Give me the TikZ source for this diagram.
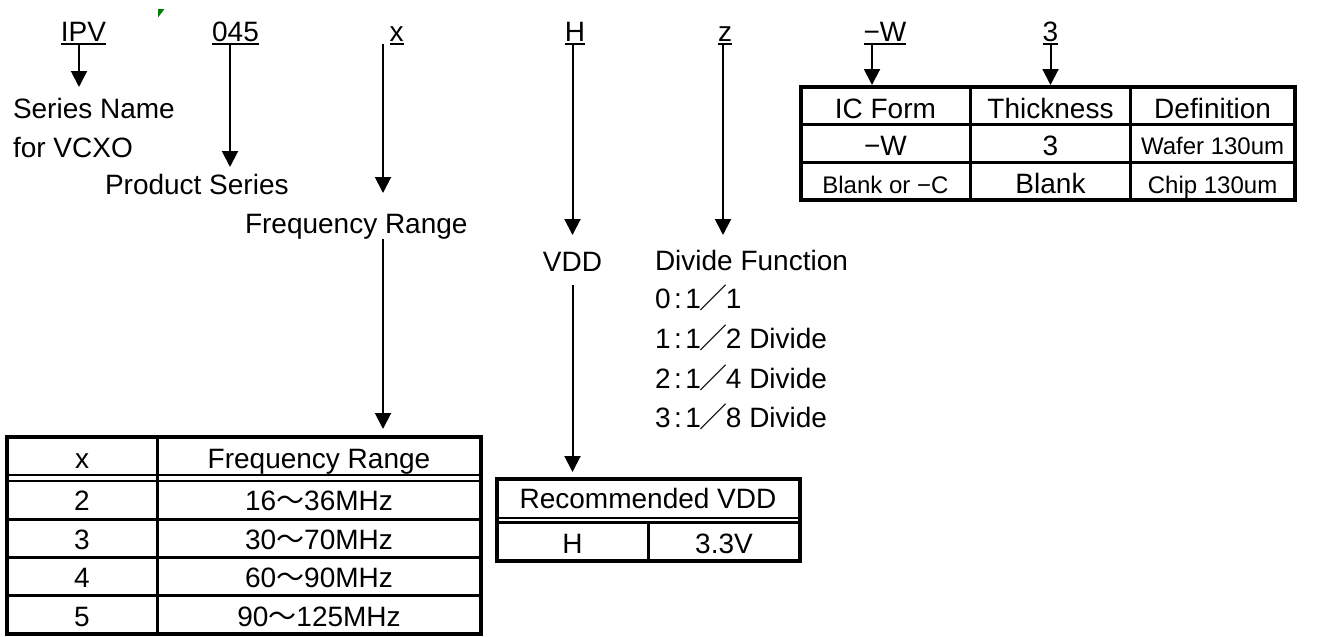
\documentclass[tikz,border=0pt]{standalone}
\usepackage{fontspec}
\setmainfont{Liberation Sans}
\newfontfamily\cjk{Noto Sans CJK JP}
\usetikzlibrary{arrows.meta}
\definecolor{mkgreen}{RGB}{0,128,0}
\begin{document}
\begin{tikzpicture}[x=1pt,y=-1pt,
  every node/.style={inner sep=0pt,outer sep=0pt,font=\fontsize{28}{32}\selectfont},
  txt/.style={anchor=base west},
  ctr/.style={anchor=base},
  toplabel/.style={anchor=base,text depth=3pt},
  small/.style={font=\fontsize{24}{28}\selectfont},
  arr/.style={line width=2pt,-{Triangle[width=16pt,length=16pt]}},
  uline/.style={line width=2.5pt},
  outerline/.style={line width=4pt},
  innerline/.style={line width=2.7pt},
  thinline/.style={line width=2.2pt}]
\useasboundingbox (0,0) rectangle (1336,637);

% green mark
\fill[mkgreen] (158,9) -- (164.5,9) -- (158,17.5) -- cycle;

% top labels
\node[toplabel] (ipv) at (83.5,41) {IPV};
\node[toplabel] (p045) at (235.5,41) {045};
\node[toplabel] (px) at (396.5,41) {x};
\node[toplabel] (ph) at (575,41) {H};
\node[toplabel] (pz) at (725,41) {z};
\node[toplabel] (pw) at (885,41) {−W};
\node[toplabel] (p3) at (1050.5,41) {3};
\foreach \n in {ipv,p045,px,ph,pz,pw,p3}
  \draw[uline] (\n.south west) -- (\n.south east);

% descriptions
\node[txt] (series) at (13,118) {Series Name};
\node[txt] (vcxo) at (13,157) {for VCXO};
\node[txt] (prod) at (105,194) {Product Series};
\node[txt] (freqlbl) at (245,233) {Frequency Range};
\node[ctr] (vdd) at (572.5,271) {VDD};
\node[txt] (divf) at (655,270) {Divide Function};
\node[txt] (d0) at (655,308) {0\hspace{3.5pt}:\hspace{3.5pt}1\kern-1pt{\cjk ／}\kern-2pt1};
\node[txt] (d1) at (655,348) {1\hspace{3.5pt}:\hspace{3.5pt}1\kern-1pt{\cjk ／}\kern-2pt2 Divide};
\node[txt] (d2) at (655,388) {2\hspace{3.5pt}:\hspace{3.5pt}1\kern-1pt{\cjk ／}\kern-2pt4 Divide};
\node[txt] (d3) at (655,427) {3\hspace{3.5pt}:\hspace{3.5pt}1\kern-1pt{\cjk ／}\kern-2pt8 Divide};

% arrow tips
\coordinate (t1) at (79,87);
\coordinate (t2) at (230,167);
\coordinate (t3) at (383,193);
\coordinate (t4) at (383,429);
\coordinate (t5) at (572.5,235);
\coordinate (t6) at (572.5,472);
\coordinate (t7) at (723,235);
\coordinate (t8) at (872,85);
\coordinate (t9) at (1050.5,85);

\draw[arr] (ipv.south -| t1) -- (t1);
\draw[arr] (p045.south -| t2) -- (t2);
\draw[arr] (px.south -| t3) -- (t3);
\draw[arr] (freqlbl.south -| t4) -- (t4);
\draw[arr] (ph.south -| t5) -- (t5);
\draw[arr] ([yshift=-14pt]vdd.south) -- (t6);
\draw[arr] (pz.south -| t7) -- (t7);
\draw[arr] (pw.south -| t8) -- (t8);
\draw[arr] (p3.south -| t9) -- (t9);

% ---- top-right table
\draw[innerline] (800.5,124.7) -- (1294.5,124.7);
\draw[innerline] (800.5,162.8) -- (1294.5,162.8);
\draw[innerline] (970.3,86.5) -- (970.3,199.5);
\draw[innerline] (1130.7,86.5) -- (1130.7,199.5);
\draw[outerline] (800.5,86.5) rectangle (1294.5,199.5);
\node[ctr] (icf) at (885.4,118) {IC Form};
\node[ctr] (thk) at (1050.5,118) {Thickness};
\node[ctr] (dfn) at (1212.6,118) {Definition};
\node[ctr] (icw) at (885.4,155) {−W};
\node[ctr] (th3) at (1050.5,155) {3};
\node[ctr,small] (waf) at (1212.6,154) {Wafer 130um};
\node[ctr,small] (icc) at (885.4,193) {Blank or −C};
\node[ctr] (thb) at (1050.5,193) {Blank};
\node[ctr,small] (chp) at (1212.6,193) {Chip 130um};

% ---- frequency table
\draw[innerline] (157.5,437) -- (157.5,634);
\draw[innerline] (6.5,475) -- (480.5,475);
\draw[thinline] (6.5,481) -- (480.5,481);
\draw[innerline] (6.5,519.25) -- (480.5,519.25);
\draw[innerline] (6.5,557.5) -- (480.5,557.5);
\draw[innerline] (6.5,595.75) -- (480.5,595.75);
\draw[outerline] (6.5,437) rectangle (480.5,634);
\node[ctr] (fhx) at (82,468) {x};
\node[ctr] (fhr) at (319,468) {Frequency Range};
\node[ctr] (f2) at (82,510.5) {2};
\node[ctr] (f2r) at (319,510.5) {16{\cjk ～}36MHz};
\node[ctr] (f3) at (82,549) {3};
\node[ctr] (f3r) at (319,549) {30{\cjk ～}70MHz};
\node[ctr] (f4) at (82,587.5) {4};
\node[ctr] (f4r) at (319,587.5) {60{\cjk ～}90MHz};
\node[ctr] (f5) at (82,626) {5};
\node[ctr] (f5r) at (319,626) {90{\cjk ～}125MHz};

% ---- VDD table
\draw[innerline] (496.5,518) -- (799.5,518);
\draw[thinline] (496.5,522.5) -- (799.5,522.5);
\draw[innerline] (648.5,522.5) -- (648.5,560.5);
\draw[outerline] (496.5,478.5) rectangle (799.5,560.5);
\node[ctr] (rvdd) at (648,508) {Recommended VDD};
\node[ctr] (vh) at (572.5,553) {H};
\node[ctr] (v33) at (724,553) {3.3V};
\end{tikzpicture}
\end{document}
